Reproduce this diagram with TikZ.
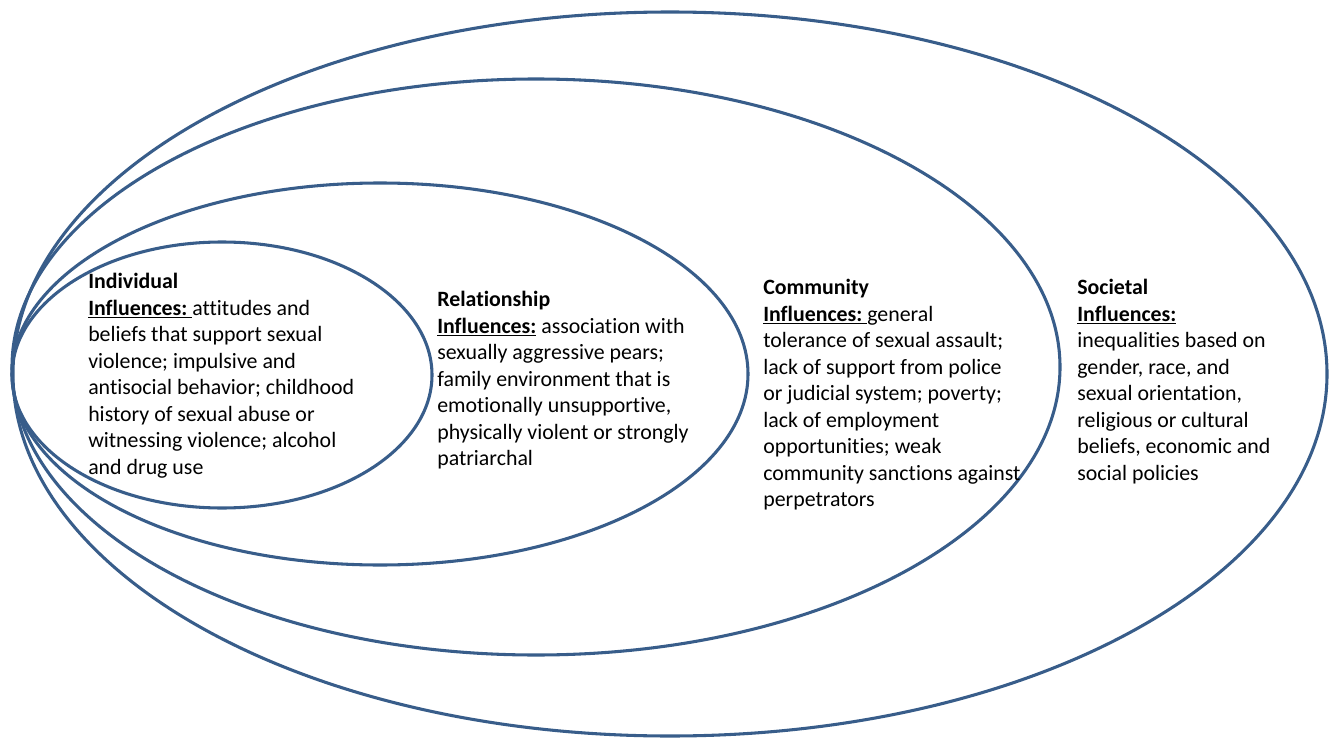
\documentclass[tikz,border=0pt]{standalone}
\usepackage{fontspec}
\setmainfont[Ligatures=NoCommon]{Carlito}
\definecolor{ringblue}{RGB}{56,93,138}
\tikzset{
	%Define style for the nested rings
	ring/.style={draw=ringblue, line width=2.3pt},
	%Define style for the text blocks
	infotext/.style={
		anchor=north west,
		inner sep=0pt,
		align=left,
		font=\fontsize{16.4}{19.9}\selectfont},
}
\newcommand{\inflhead}[1]{\underline{\textbf{#1}}}

\begin{document}
\begin{tikzpicture}[x=0.75pt,y=-0.75pt]
	\useasboundingbox (0,0) rectangle (1338,738);
	% ring Societal
	\draw[ring] (670,374) ellipse [x radius=657, y radius=362];
	% ring Community
	\draw[ring] (536,367) ellipse [x radius=524, y radius=288];
	% ring Relationship
	\draw[ring] (380,374) ellipse [x radius=368, y radius=191];
	% ring Individual
	\draw[ring] (222,375) ellipse [x radius=210, y radius=133];
	% node Individual
	\node[infotext] (indiv) at (88,273) {\textbf{Individual}\\
		\inflhead{Influences:\ }attitudes and\\
		beliefs that support sexual\\
		violence; impulsive and\\
		antisocial behavior; childhood\\
		history of sexual abuse or\\
		witnessing violence; alcohol\\
		and drug use};
	% node Relationship
	\node[infotext] (relat) at (437,291) {\textbf{Relationship}\\
		\inflhead{Influences:}\ association with\\
		sexually aggressive pears;\\
		family environment that is\\
		emotionally unsupportive,\\
		physically violent or strongly\\
		patriarchal};
	% node Community
	\node[infotext] (commun) at (763,279) {\textbf{Community}\\
		\inflhead{Influences:\ }general\\
		tolerance of sexual assault;\\
		lack of support from police\\
		or judicial system; poverty;\\
		lack of employment\\
		opportunities; weak\\
		community sanctions against\\
		perpetrators};
	% node Societal
	\node[infotext] (societ) at (1077,279) {\textbf{Societal}\\
		\inflhead{Influences:}\\
		inequalities based on\\
		gender, race, and\\
		sexual orientation,\\
		religious or cultural\\
		beliefs, economic and\\
		social policies};
\end{tikzpicture}
\end{document}
